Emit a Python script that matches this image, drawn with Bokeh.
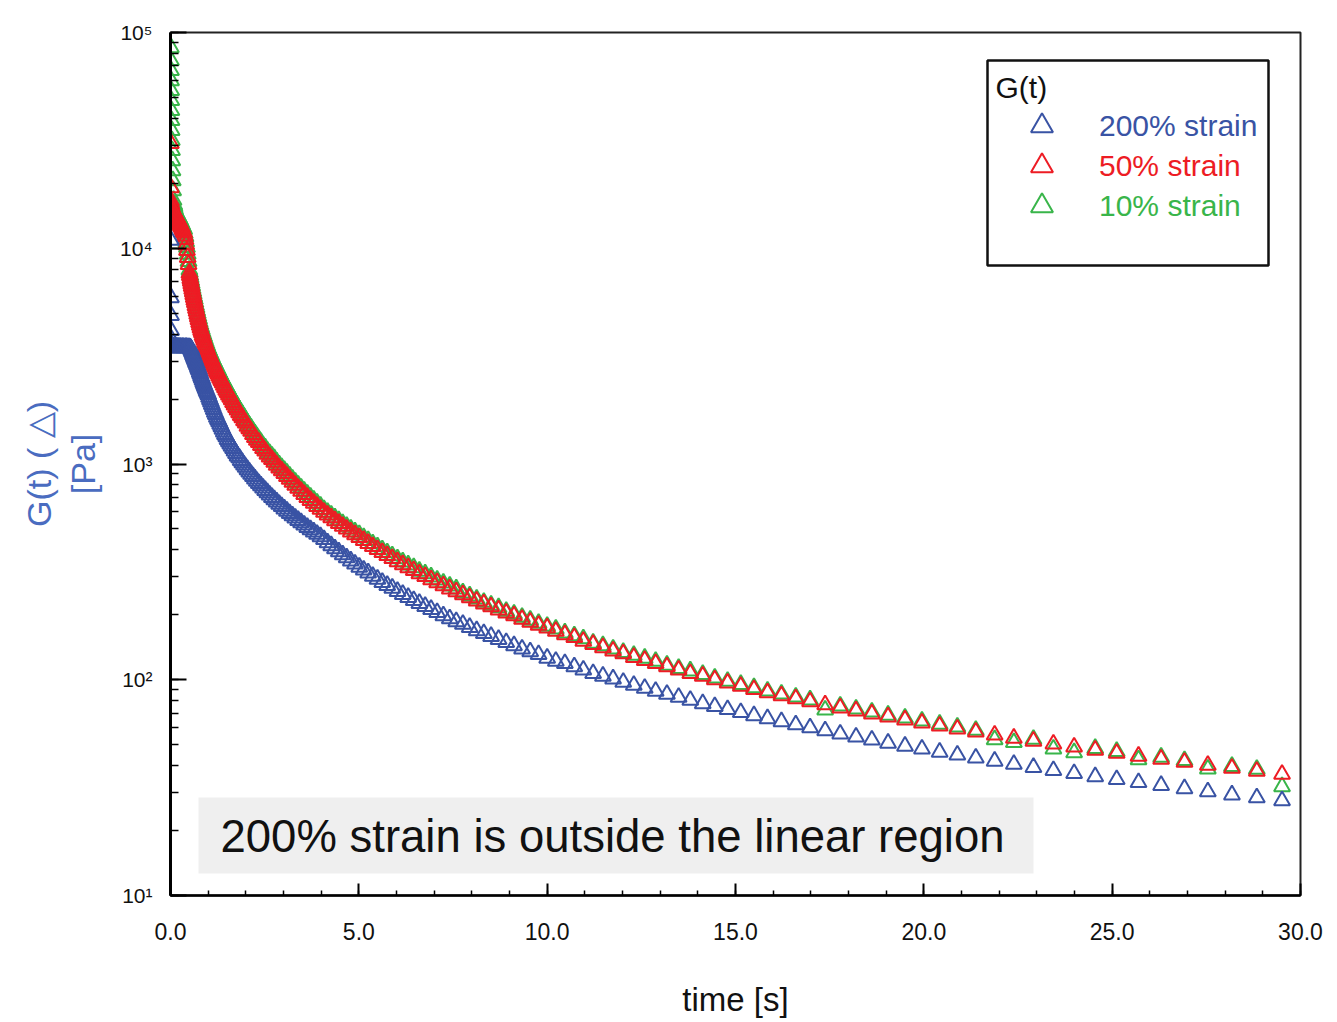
from bokeh.plotting import figure
from bokeh.models import (Range1d, Label, Legend, LegendItem, BoxAnnotation, Title,
                          SingleIntervalTicker)
from bokeh.embed import file_html
from bokeh.resources import INLINE

# ---------------- data ----------------
time_s = [
    # first samples (all stacked at t ~ 0)
    0.01, 0.0115, 0.013, 0.015, 0.017, 0.02, 0.023, 0.026, 0.03, 0.035,
    0.04, 0.046, 0.053, 0.06, 0.07, 0.08,
    # 0.1 .. 0.48 s
    0.100, 0.105, 0.110, 0.115, 0.120, 0.126, 0.132, 0.138, 0.145, 0.151,
    0.158, 0.166, 0.174, 0.182, 0.191, 0.200, 0.209, 0.219, 0.229, 0.240,
    0.251, 0.263, 0.275, 0.288, 0.302, 0.316, 0.331, 0.347, 0.363, 0.380,
    0.398, 0.417, 0.437, 0.457, 0.479,
    # 0.5 .. 7.6 s
    0.501, 0.513, 0.525, 0.537, 0.550, 0.562, 0.575, 0.589, 0.603, 0.617,
    0.631, 0.646, 0.661, 0.676, 0.692, 0.708, 0.724, 0.741, 0.759, 0.776,
    0.794, 0.813, 0.832, 0.851, 0.871, 0.891, 0.912, 0.933, 0.955, 0.977,
    1.000, 1.023, 1.047, 1.072, 1.096, 1.122, 1.148, 1.175, 1.202, 1.230,
    1.259, 1.288, 1.318, 1.349, 1.380, 1.413, 1.445, 1.479, 1.514, 1.549,
    1.585, 1.622, 1.660, 1.698, 1.738, 1.778, 1.820, 1.862, 1.905, 1.950,
    1.995, 2.042, 2.089, 2.138, 2.188, 2.239, 2.291, 2.344, 2.399, 2.455,
    2.512, 2.570, 2.630, 2.692, 2.754, 2.818, 2.884, 2.951, 3.020, 3.090,
    3.162, 3.236, 3.311, 3.388, 3.467, 3.548, 3.631, 3.715, 3.802, 3.890,
    3.981, 4.074, 4.169, 4.266, 4.365, 4.467, 4.571, 4.677, 4.786, 4.898,
    5.012, 5.129, 5.248, 5.370, 5.495, 5.623, 5.754, 5.888, 6.026, 6.166,
    6.310, 6.457, 6.607, 6.761, 6.918, 7.079, 7.244, 7.413, 7.586,
    # 7.7 .. 29.5 s
    7.762, 7.943, 8.128, 8.318, 8.511, 8.710, 8.913, 9.120, 9.333, 9.550,
    9.772, 10.00, 10.23, 10.47, 10.72, 10.96, 11.22, 11.48, 11.75, 12.02,
    12.30, 12.59, 12.88, 13.18, 13.49, 13.80, 14.13, 14.45, 14.79, 15.14,
    15.49, 15.85, 16.22, 16.60, 16.98, 17.38, 17.78, 18.20, 18.62, 19.05,
    19.50, 19.95, 20.42, 20.89, 21.38, 21.88, 22.39, 22.91, 23.44, 23.99,
    24.55, 25.12, 25.70, 26.30, 26.92, 27.54, 28.18, 28.84, 29.51,
]

g_200 = [
    10900, 5910, 4880, 4160, 3800, 3600, 3520, 3490, 3480, 3470,
    3470, 3480, 3470, 3470, 3460, 3470,
    3470, 3480, 3470, 3460, 3470, 3470, 3480, 3470, 3460, 3470,
    3470, 3480, 3470, 3460, 3470, 3470, 3480, 3470, 3460, 3470,
    3470, 3480, 3470, 3460, 3470, 3470, 3480, 3470, 3460, 3470,
    3470, 3480, 3470, 3460, 3470,
    3470, 3460, 3450, 3420, 3390, 3340, 3300, 3250, 3200, 3150,
    3100, 3060, 3010, 2960, 2920, 2870, 2820, 2770, 2720, 2660,
    2610, 2550, 2500, 2450, 2390, 2340, 2290, 2240, 2190, 2150,
    2100, 2040, 1990, 1940, 1890, 1840, 1790, 1740, 1700, 1650,
    1610, 1570, 1530, 1490, 1450, 1410, 1370, 1340, 1300, 1270,
    1240, 1210, 1180, 1150, 1120, 1090, 1070, 1040, 1015, 990,
    966, 942, 920, 897, 876, 854, 833, 813, 793, 774,
    755, 737, 719, 701, 684, 668, 651, 636, 620, 605,
    590, 576, 562, 548, 535, 522, 509, 497, 485, 473,
    461, 447, 432, 419, 405, 392, 380, 368, 356, 344,
    333, 323, 313, 302, 293, 283, 274, 266, 257, 249,
    241, 233, 226, 219, 212, 205, 198, 192, 186,
    181, 175, 169, 164, 159, 154, 149, 144, 139, 135,
    131, 126, 122, 119, 115, 111, 107, 104, 101, 97.5,
    94.4, 91.4, 88.5, 85.7, 83.0, 80.4, 77.6, 75.2, 72.8, 70.5,
    68.2, 66.1, 64.0, 61.9, 60.0, 58.1, 56.1, 54.3, 52.6, 50.9,
    49.3, 47.8, 46.2, 44.8, 43.4, 42.0, 40.6, 39.3, 38.0, 36.8,
    35.6, 34.5, 33.4, 32.4, 31.3, 30.3, 29.3, 28.4, 27.5,
]

g_50 = [
    30600, 19100, 16600, 16200, 16000, 15800, 15700, 15600, 15500, 15400,
    15300, 15200, 15100, 15000, 14900, 14800,
    14600, 14500, 14500, 14400, 14300, 14300, 14200, 14200, 14100, 14000,
    14000, 13900, 13800, 13700, 13600, 13500, 13400, 13300, 13200, 13100,
    13000, 12900, 12700, 12600, 12500, 12300, 12100, 11900, 11800, 11400,
    11000, 10400, 9770, 9080, 8410,
    7670, 7460, 7240, 7040, 6840, 6650, 6460, 6270, 6100, 5920,
    5750, 5590, 5420, 5260, 5110, 4950, 4810, 4670, 4530, 4400,
    4270, 4160, 4060, 3950, 3860, 3760, 3660, 3570, 3480, 3400,
    3310, 3240, 3160, 3090, 3020, 2950, 2880, 2820, 2750, 2690,
    2630, 2560, 2500, 2440, 2380, 2320, 2260, 2200, 2150, 2090,
    2040, 1990, 1930, 1880, 1830, 1780, 1730, 1680, 1640, 1590,
    1550, 1500, 1460, 1420, 1370, 1330, 1290, 1260, 1220, 1180,
    1150, 1110, 1080, 1050, 1020, 989, 959, 931, 904, 877,
    851, 824, 798, 773, 748, 724, 701, 679, 658, 637,
    617, 598, 581, 564, 547, 531, 515, 500, 485, 471,
    457, 443, 429, 415, 402, 389, 377, 365, 353, 342,
    331, 321, 310, 301, 291, 282, 273, 264, 256,
    248, 240, 232, 225, 218, 211, 204, 198, 191, 185,
    179, 174, 168, 162, 157, 151, 146, 141, 136, 132,
    127, 123, 119, 115, 111, 107, 104, 100, 96.6, 93.3,
    90.2, 87.1, 84.3, 81.7, 79.1, 76.6, 74.1, 71.8, 69.5, 67.3,
    65.2, 63.1, 61.1, 59.2, 57.3, 55.5, 53.7, 52.0, 50.4, 48.8,
    47.2, 45.7, 44.3, 42.9, 41.5, 40.2, 38.9, 37.7, 36.5,
]

g_10 = [
    85200, 74200, 66700, 59900, 53900, 48400, 43500, 39100, 35200, 31600,
    28400, 25500, 22900, 20600, 18500, 16700,
    15900, 15600, 15400, 15200, 15000, 14900, 14800, 14700, 14600, 14500,
    14500, 14400, 14300, 14200, 14100, 14000, 13900, 13800, 13700, 13600,
    13500, 13300, 13200, 13000, 12900, 12700, 12500, 12400, 12200, 11700,
    11300, 10700, 10100, 9400, 8700,
    7940, 7720, 7490, 7290, 7080, 6880, 6690, 6490, 6310, 6130,
    5950, 5790, 5610, 5440, 5290, 5120, 4980, 4830, 4690, 4550,
    4420, 4310, 4200, 4090, 3990, 3890, 3790, 3690, 3600, 3520,
    3430, 3350, 3270, 3200, 3130, 3050, 2980, 2920, 2850, 2780,
    2720, 2650, 2590, 2530, 2460, 2400, 2340, 2280, 2230, 2160,
    2110, 2060, 2000, 1950, 1890, 1840, 1790, 1740, 1700, 1650,
    1600, 1550, 1510, 1470, 1420, 1380, 1340, 1300, 1260, 1220,
    1190, 1150, 1120, 1090, 1060, 1024, 993, 964, 936, 908,
    881, 853, 826, 800, 774, 749, 726, 703, 681, 659,
    639, 616, 598, 581, 563, 547, 530, 515, 500, 485,
    471, 456, 442, 427, 414, 401, 388, 376, 364, 352,
    341, 331, 319, 310, 300, 290, 281, 272, 264,
    253, 245, 237, 229, 222, 216, 208, 202, 195, 189,
    183, 177, 172, 165, 160, 155, 148, 144, 139, 134,
    130, 126, 122, 117, 113, 110, 106, 102, 98.5, 95.2,
    92.0, 88.8, 86.0, 83.3, 80.7, 72.5, 75.6, 73.2, 70.9, 68.6,
    66.5, 64.4, 62.3, 60.4, 58.4, 52.8, 51.2, 53.0, 47.8, 46.0,
    48.1, 46.6, 42.6, 43.8, 42.3, 38.6, 39.7, 38.5, 32.0,
]

assert len(time_s) == len(g_200) == len(g_50) == len(g_10), (
    len(time_s), len(g_200), len(g_50), len(g_10))

series_labels = ["200% strain", "50% strain", "10% strain"]
series_colors = ["#3953a4", "#ed1c24", "#39b54a"]

x_ticks = [0, 5, 10, 15, 20, 25, 30]
x_tick_labels = ["0.0", "5.0", "10.0", "15.0", "20.0", "25.0", "30.0"]
y_ticks = [10, 100, 1000, 10000, 100000]
y_tick_labels = ["10\u00b9", "10\u00b2", "10\u00b3", "10\u2074", "10\u2075"]

x_title = "time [s]"
y_title_1 = "G(t) ( \u25b3)"
y_title_2 = "[Pa]"
legend_title = "G(t)"
note_text = "200% strain is outside the linear region"

FONT = "Liberation Sans"
AXIS_BLUE = "#4a6cc0"
INK = "#111111"

# ---------------- figure ----------------
p = figure(width=1337, height=1022, x_range=Range1d(x_ticks[0], x_ticks[-1]),
           y_range=Range1d(y_ticks[0], y_ticks[-1]), y_axis_type="log",
           output_backend="svg", toolbar_location=None,
           min_border_left=170, min_border_right=37, min_border_top=32,
           min_border_bottom=127)
p.xgrid.visible = False
p.ygrid.visible = False
p.outline_line_color = "#222222"
p.outline_line_width = 2
p.background_fill_color = "white"
p.border_fill_color = "white"

# x axis
xa = p.xaxis[0]
xa.ticker = SingleIntervalTicker(interval=5, num_minor_ticks=5)
xa.major_label_overrides = dict(zip(x_ticks, x_tick_labels))
xa.major_label_text_font = FONT
xa.major_label_text_font_size = "23px"
xa.major_label_text_color = INK
xa.major_label_standoff = 27
xa.major_tick_in = 12
xa.major_tick_out = 0
xa.minor_tick_in = 5
xa.minor_tick_out = 0
xa.axis_line_width = 2.5
xa.major_tick_line_width = 2
xa.minor_tick_line_width = 1.5
xa.axis_label = x_title
xa.axis_label_text_font = FONT
xa.axis_label_text_font_size = "33px"
xa.axis_label_text_font_style = "normal"
xa.axis_label_text_color = INK
xa.axis_label_standoff = 38

# y axis
ya = p.yaxis[0]
ya.major_label_overrides = dict(zip(y_ticks, y_tick_labels))
ya.major_label_text_font = FONT
ya.major_label_text_font_size = "21px"
ya.major_label_text_color = INK
ya.major_label_standoff = 18
ya.major_tick_in = 16
ya.major_tick_out = 0
ya.minor_tick_in = 8
ya.minor_tick_out = 0
ya.axis_line_width = 3
ya.major_tick_line_width = 2
ya.minor_tick_line_width = 1.5
ya.axis_label = y_title_2
ya.axis_label_text_font = FONT
ya.axis_label_text_font_size = "34px"
ya.axis_label_text_font_style = "normal"
ya.axis_label_text_color = AXIS_BLUE
ya.axis_label_standoff = 15

p.add_layout(Title(text=y_title_1, align="center", text_font=FONT, text_font_size="34px",
                   text_font_style="normal", text_color=AXIS_BLUE, standoff=8), "left")

# note box
p.add_layout(BoxAnnotation(left=28, right=863, top=98, bottom=22,
                           left_units="screen", right_units="screen",
                           top_units="screen", bottom_units="screen",
                           fill_color="#efefef", fill_alpha=1, line_color=None,
                           level="underlay"))
p.add_layout(Label(x=50, y=59, x_units="screen", y_units="screen", text=note_text,
                   text_baseline="middle", text_font=FONT, text_font_size="45.5px",
                   text_color=INK))

# data
renderers = {}
for vals, lab, col in ((g_10, series_labels[2], series_colors[2]),
                       (g_50, series_labels[1], series_colors[1]),
                       (g_200, series_labels[0], series_colors[0])):
    renderers[lab] = p.scatter(time_s, vals, marker="triangle", size=16,
                               fill_color=None, line_color=col, line_width=2)

# legend
p.add_layout(BoxAnnotation(left=817, right=1098, top=835, bottom=630,
                           left_units="screen", right_units="screen",
                           top_units="screen", bottom_units="screen",
                           fill_alpha=0, line_color=INK, line_alpha=1, line_width=2.5))
p.add_layout(Label(x=825, y=808, x_units="screen", y_units="screen", text=legend_title,
                   text_baseline="middle", text_font=FONT, text_font_size="30px",
                   text_color=INK))
row_bottoms = [742, 702, 662]
for lab, col, vy in zip(series_labels, series_colors, row_bottoms):
    lg = Legend(items=[LegendItem(label=lab, renderers=[renderers[lab]])],
                location=(844, vy), border_line_color=None, background_fill_alpha=0,
                padding=0, margin=0, spacing=0, glyph_width=55, glyph_height=55,
                label_standoff=30, label_text_font=FONT, label_text_font_size="30px",
                label_text_color=col)
    p.add_layout(lg)

open("out.html", "w").write(file_html(p, INLINE))
